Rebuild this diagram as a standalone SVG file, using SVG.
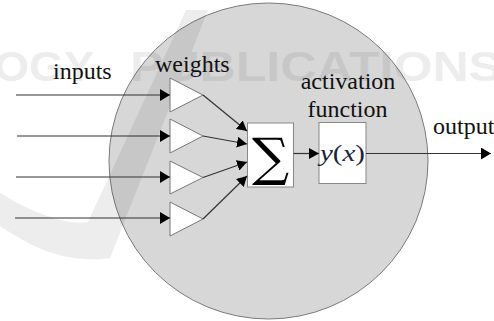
<svg xmlns="http://www.w3.org/2000/svg" width="494" height="321" viewBox="0 0 494 321">
  <style>
    .wm { fill: #000; opacity: 0.065; }
    .weight { fill: #fff; stroke: #777; stroke-width: 1; }
    .box { fill: #fff; stroke: #888; stroke-width: 1; }
    .wire { fill: none; stroke: #333; stroke-width: 1.2; }
  </style>
  <defs>
    <marker id="arrow" viewBox="0 0 10 12" refX="10" refY="6" markerWidth="10" markerHeight="12" markerUnits="userSpaceOnUse" orient="auto">
      <path d="M0,0 L10,6 L0,12 Z" fill="#000"/>
    </marker>
    <marker id="arrowS" viewBox="0 0 10 11" refX="10" refY="5.5" markerWidth="10" markerHeight="11" markerUnits="userSpaceOnUse" orient="auto">
      <path d="M0,0 L10,5.5 L0,11 Z" fill="#000"/>
    </marker>
  </defs>

  <rect width="494" height="321" fill="#fff"/>

  <!-- neuron body -->
  <g id="neuron">
    <ellipse cx="268.5" cy="161" rx="159.5" ry="158" fill="#d7d7d7" stroke="#7a7a7a" stroke-width="1"/>
  </g>

  <!-- faint publisher mark behind the drawing -->
  <g id="watermark" class="wm" font-family="'Liberation Sans', Arial, sans-serif" font-weight="bold" font-size="42">
    <text x="-6" y="81" textLength="100" lengthAdjust="spacingAndGlyphs">OGY</text>
    <text x="130" y="81" textLength="372" lengthAdjust="spacingAndGlyphs">PUBLICATIONS</text>
    <path d="M186,10 L208,10 L110,258 Q70,264 30,244 Q12,234 0,226 L0,193 Q30,212 60,220 Q75,224 88,222 Z"/>
  </g>

  <!-- labels -->
  <g id="labels" font-family="'Liberation Serif', 'Times New Roman', serif" font-size="24" fill="#111">
    <text x="53" y="79">inputs</text>
    <text x="155" y="72">weights</text>
    <text x="348" y="88.5" text-anchor="middle">activation</text>
    <text x="347.5" y="117" text-anchor="middle">function</text>
    <text x="433" y="134">output</text>
  </g>

  <!-- weight nodes -->
  <g id="w1"><polygon class="weight" points="170,78 170,112 203,95"/></g>
  <g id="w2"><polygon class="weight" points="170,119 170,153 203,136"/></g>
  <g id="w3"><polygon class="weight" points="170,161 170,194 203,177.5"/></g>
  <g id="w4"><polygon class="weight" points="170,202 170,236 203,219"/></g>

  <!-- summation node -->
  <g id="sum">
    <rect class="box" x="247.5" y="123" width="46" height="64"/>
    <text x="270.5" y="175" text-anchor="middle" font-family="'DejaVu Serif', 'Liberation Serif', serif" font-size="52" fill="#000">∑</text>
  </g>

  <!-- activation node -->
  <g id="activation">
    <rect class="box" x="319" y="122.5" width="47" height="61"/>
    <text x="342.5" y="161" text-anchor="middle" font-family="'Liberation Serif', 'Times New Roman', serif" font-size="23" fill="#1c2340" textLength="45" lengthAdjust="spacingAndGlyphs"><tspan font-style="italic">y</tspan>(<tspan font-style="italic">x</tspan>)</text>
  </g>

  <!-- connectors -->
  <g id="connectors" class="wire">
    <line x1="16" y1="95" x2="170" y2="95" marker-end="url(#arrow)"/>
    <line x1="17" y1="136" x2="170" y2="136" marker-end="url(#arrow)"/>
    <line x1="16" y1="177" x2="170" y2="177" marker-end="url(#arrow)"/>
    <line x1="15" y1="218" x2="170" y2="218" marker-end="url(#arrow)"/>
    <line x1="203" y1="95" x2="247" y2="131" marker-end="url(#arrowS)"/>
    <line x1="203" y1="136" x2="247" y2="144" marker-end="url(#arrowS)"/>
    <line x1="203" y1="177.5" x2="247" y2="162" marker-end="url(#arrowS)"/>
    <line x1="203" y1="219" x2="247" y2="176" marker-end="url(#arrowS)"/>
    <line x1="293.5" y1="153.5" x2="319" y2="153.5" marker-end="url(#arrowS)"/>
    <line x1="366" y1="153.5" x2="491" y2="153.5" marker-end="url(#arrow)"/>
  </g>
</svg>
